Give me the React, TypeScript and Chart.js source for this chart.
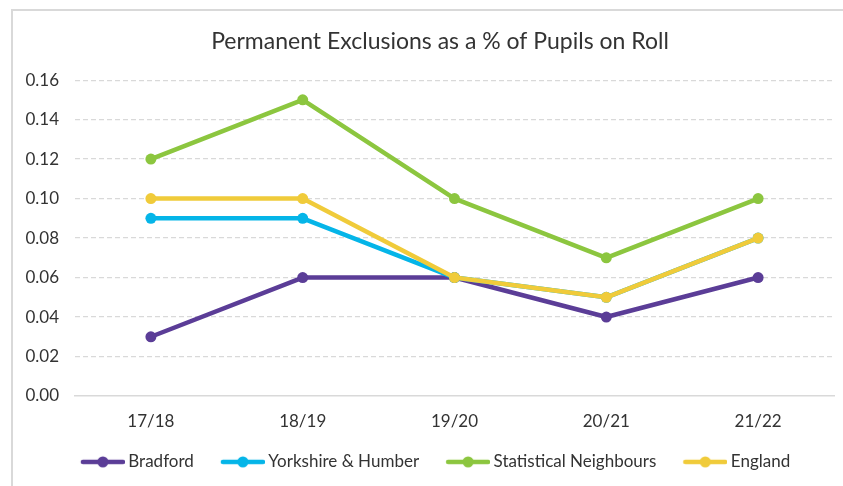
import React, { useEffect, useRef } from "react";
import { Chart, registerables } from "chart.js";

Chart.register(...registerables);

const categories = ["17/18", "18/19", "19/20", "20/21", "21/22"];
const bradford = [0.03, 0.06, 0.06, 0.04, 0.06];
const yorkshire = [0.09, 0.09, 0.06, 0.05, 0.08];
const neighbours = [0.12, 0.15, 0.1, 0.07, 0.1];
const england = [0.1, 0.1, 0.06, 0.05, 0.08];
const seriesNames = ["Bradford", "Yorkshire & Humber", "Statistical Neighbours", "England"];
const seriesColors = ["#5B3D97", "#05B5E8", "#8CC63F", "#F0CB3A"];
const yTicks = [0, 0.02, 0.04, 0.06, 0.08, 0.1, 0.12, 0.14, 0.16];
const titleText = "Permanent Exclusions as a % of Pupils on Roll";

const FONT = "Lato";
const TEXT = "#333333";
const GRID = "#D9D9D9";

function legendIcon(color: string): HTMLCanvasElement {
  const c = document.createElement("canvas");
  c.width = 54;
  c.height = 14;
  const g = c.getContext("2d")!;
  g.strokeStyle = color;
  g.lineWidth = 4.5;
  g.lineCap = "round";
  g.beginPath();
  g.moveTo(12, 7);
  g.lineTo(52, 7);
  g.stroke();
  g.fillStyle = color;
  g.beginPath();
  g.arc(32, 7, 5.5, 0, Math.PI * 2);
  g.fill();
  return c;
}

const shiftPlugin = {
  id: "shiftBoxes",
  afterLayout(chart: any) {
    if (chart.titleBlock) {
      chart.titleBlock.left += 23;
      chart.titleBlock.right += 23;
    }
    if (chart.legend) {
      chart.legend.left += 32;
    }
  },
};

export default function App() {
  const ref = useRef<HTMLCanvasElement | null>(null);

  useEffect(() => {
    if (!ref.current) return;
    const all = [bradford, yorkshire, neighbours, england];
    const icons = seriesColors.map(legendIcon);
    const chart = new Chart(ref.current, {
      type: "line",
      data: {
        labels: categories,
        datasets: all.map((d, i) => ({
          label: seriesNames[i],
          data: d,
          borderColor: seriesColors[i],
          backgroundColor: seriesColors[i],
          borderWidth: 4.5,
          pointRadius: 5.5,
          pointBorderWidth: 0,
          pointBackgroundColor: seriesColors[i],
          borderCapStyle: "round",
          borderJoinStyle: "round",
          tension: 0,
          order: 4 - i,
        })),
      },
      plugins: [shiftPlugin],
      options: {
        responsive: false,
        animation: false,
        layout: { padding: { left: 0, right: 9, top: 0, bottom: 5.6 } },
        plugins: {
          tooltip: { enabled: false },
          title: {
            display: true,
            text: titleText,
            color: TEXT,
            font: { family: FONT, size: 23, weight: "normal" },
            padding: { top: 28, bottom: 24.5 },
          },
          legend: {
            position: "bottom",
            labels: {
              usePointStyle: true,
              pointStyleWidth: 44,
              padding: 22,
              color: TEXT,
              font: { family: FONT, size: 17 },
              generateLabels: () =>
                seriesNames.map((n, i) => ({
                  text: n,
                  fillStyle: seriesColors[i],
                  strokeStyle: seriesColors[i],
                  lineWidth: 0,
                  pointStyle: icons[i],
                  hidden: false,
                  datasetIndex: i,
                  fontColor: TEXT,
                })),
            },
          },
        },
        scales: {
          x: {
            offset: true,
            grid: { display: false, drawTicks: false },
            border: { display: true, color: GRID, width: 1.5 },
            ticks: { color: TEXT, font: { family: FONT, size: 17 }, padding: 15 },
            afterFit: (s: any) => {
              s.height = 35.4;
            },
          },
          y: {
            min: 0,
            max: 0.16,
            afterBuildTicks: (s: any) => {
              s.ticks = yTicks.map((v) => ({ value: v }));
            },
            grid: {
              drawTicks: false,
              color: (ctx: any) => (ctx.tick && ctx.tick.value === 0 ? "rgba(0,0,0,0)" : GRID),
              lineWidth: 1.2,
            },
            border: { display: false, dash: [5, 3] },
            ticks: {
              color: TEXT,
              font: { family: FONT, size: 17 },
              padding: 16,
              callback: (v: any) => Number(v).toFixed(2),
            },
            afterFit: (s: any) => {
              s.width = 75;
            },
          },
        },
      },
    } as any);
    return () => chart.destroy();
  }, []);

  return (
    <div style={{ position: "fixed", left: 0, top: 0, width: 843, height: 486, background: "#fff", overflow: "hidden" }}>
      <div
        style={{
          position: "absolute",
          left: 11,
          top: 9,
          width: 900,
          height: 520,
          border: "2px solid #D9D9D9",
          boxSizing: "border-box",
        }}
      />
      <canvas ref={ref} width={843} height={486} style={{ position: "absolute", left: 0, top: 0 }} />
    </div>
  );
}
